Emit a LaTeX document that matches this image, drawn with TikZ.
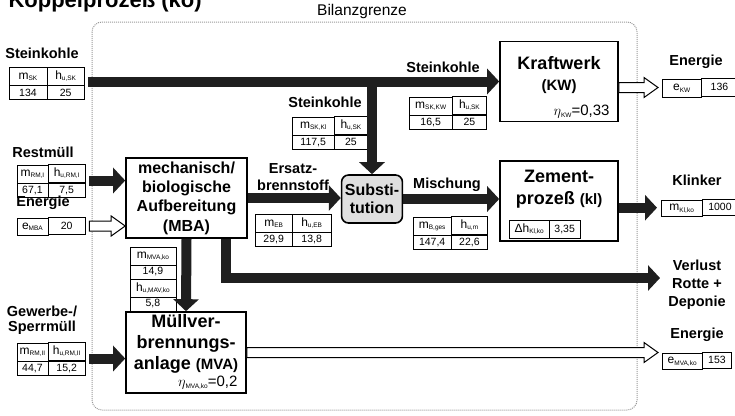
\documentclass[tikz,border=0pt]{standalone}
\usepackage{fontspec}
\setmainfont{Liberation Sans}
\usetikzlibrary{arrows.meta,matrix,calc}

\newcommand{\qsym}[2]{{\fontsize{12}{12}\selectfont #1}\raisebox{-1.5pt}{\fontsize{6.5}{6.5}\selectfont #2}}
\newcommand{\effsym}[2]{{\fontsize{15}{15}\selectfont$\eta$}\raisebox{-1.5pt}{\fontsize{6.5}{6.5}\selectfont #1}{\fontsize{15}{15}\selectfont=#2}}
\newcommand{\hollowflow}[2]{%
\draw [energy] let \p1 = (#1), \p2 = (#2) in
 (\x1,\y1+5pt) -- (\x2-14pt,\y1+5pt) -- (\x2-14pt,\y1+10pt) -- (\x2,\y1)
 -- (\x2-14pt,\y1-10pt) -- (\x2-14pt,\y1-5pt) -- (\x1,\y1-5pt) -- cycle;}

\tikzset{
 flow/.style = {line width=10pt, black!88, -{Triangle[length=12pt, width=25pt]}},
 energy/.style = {line width=1pt, fill=white, line join=miter},
 bound/.style = {gray!80, line width=1pt, densely dotted, rounded corners=10pt},
 unit/.style = {draw, line width=1.6pt, minimum width=118pt, minimum height=80pt},
 unittext/.style = {align=center, font=\fontsize{18}{21}\selectfont\bfseries},
 lab/.style = {align=center, font=\fontsize{14.5}{15.5}\selectfont\bfseries},
 valtab/.style = {matrix of nodes, anchor=north west, column sep=-0.8pt, row sep=-0.8pt,
   nodes={draw, line width=0.8pt, inner sep=0pt, minimum width=37.5pt, minimum height=14pt,
   font=\fontsize{10.5}{11}\selectfont},
   row 1/.style={nodes={minimum height=18pt}}},
}

\begin{document}
\begin{tikzpicture}[x=1pt, y=-1pt]
\useasboundingbox (0,0) rectangle (735,415);

\node [anchor=base west, font=\fontsize{22}{22}\selectfont\bfseries] (title) at (5,7) {Koppelprozeß (ko)};
\node [font=\fontsize{15.5}{16}\selectfont] (bilanz) at (362,11) {Bilanzgrenze};
\draw [bound] (92,22) rectangle (637,410);

% Anlagen
\node [unit] (kw) at (559,81.5) {};
\node [unittext] (kwtxt) at (559,75) {Kraftwerk\\{\fontsize{15}{15}\selectfont (KW)}};
\node [anchor=east] (kweta) at (613,112) {\effsym{KW}{0,33}};
\node [unit, minimum width=121pt, align=center, font=\fontsize{16}{19.3}\selectfont\bfseries] (mba) at (186.5,198) {mechanisch/\\biologische\\Aufbereitung\\(MBA)};
\node [unit, minimum width=60pt, minimum height=48pt, rounded corners=7pt, fill=gray!25, align=center, font=\fontsize{16}{18}\selectfont\bfseries] (subst) at (372,199) {Substi-\\tution};
\node [unit] (zem) at (559,201) {};
\node [unittext, font=\fontsize{18}{22}\selectfont\bfseries] (zemtxt) at (559,189) {Zement-\\prozeß {\fontsize{15}{15}\selectfont (kl)}};
\node [unit, minimum width=120pt, minimum height=81pt] (mva) at (186,352.5) {};
\node [unittext] (mvatxt) at (186,344) {Müllver-\\brennungs-\\anlage {\fontsize{15}{15}\selectfont (MVA)}};
\node [anchor=east] (mvaeta) at (241,383) {\effsym{MVA,ko}{0,2}};

% Tabellen
\matrix (sk) [valtab, column 1/.style={nodes={minimum width=38pt}}] at (5,63) {
 \qsym{m}{SK} & \qsym{h}{u,SK} \\ 134 & 25 \\};
\matrix (rmi) [valtab, column 1/.style={nodes={minimum width=31pt}}] at (13,160) {
 \qsym{m}{RM,I} & \qsym{h}{u,RM,I} \\ 67,1 & 7,5 \\};
\matrix (emba) [valtab, column 1/.style={nodes={minimum width=31pt}}, row 1/.style={nodes={minimum height=17pt}}] at (13,213) {
 \qsym{e}{MBA} & 20 \\};
\matrix (rmii) [valtab, column 1/.style={nodes={minimum width=31pt}}] at (13,338) {
 \qsym{m}{RM,II} & \qsym{h}{u,RM,II} \\ 44,7 & 15,2 \\};
\matrix (mvatab) [valtab, nodes={minimum width=46pt}, row 3/.style={nodes={minimum height=18pt}}] at (126,243) {
 \qsym{m}{MVA,ko} \\ 14,9 \\ \qsym{h}{u,MAV,ko} \\ 5,8 \\};
\matrix (eb) [valtab, column 2/.style={nodes={minimum width=38.5pt}}] at (251,210) {
 \qsym{m}{EB} & \qsym{h}{u,EB} \\ 29,9 & 13,8 \\};
\matrix (skkl) [valtab, column 1/.style={nodes={minimum width=42.5pt}}, column 2/.style={nodes={minimum width=33pt}}] at (288,112) {
 \qsym{m}{SK,Kl} & \qsym{h}{u,SK} \\ 117,5 & 25 \\};
\matrix (skkw) [valtab, column 1/.style={nodes={minimum width=43.5pt}}, column 2/.style={nodes={minimum width=34pt}}] at (405,92) {
 \qsym{m}{SK,KW} & \qsym{h}{u,SK} \\ 16,5 & 25 \\};
\matrix (bges) [valtab, column 1/.style={nodes={minimum width=38.5pt}}, column 2/.style={nodes={minimum width=36pt}}] at (409,212) {
 \qsym{m}{B,ges} & \qsym{h}{u,m} \\ 147,4 & 22,6 \\};
\matrix (dh) [valtab, column 1/.style={nodes={minimum width=40.5pt}}, column 2/.style={nodes={minimum width=30.5pt}}] at (505,216) {
 \qsym{Δh}{Kl,ko} & 3,35 \\};
\matrix (ekw) [valtab, column 1/.style={nodes={minimum width=39.5pt}}, column 2/.style={nodes={minimum width=36pt}}] at (658,74) {
 \qsym{e}{KW} & 136 \\};
\matrix (kl) [valtab, column 1/.style={nodes={minimum width=41.5pt}}, column 2/.style={nodes={minimum width=35pt}}, row 1/.style={nodes={minimum height=16pt}}] at (657,195) {
 \qsym{m}{Kl,ko} & 1000 \\};
\matrix (emva) [valtab, column 1/.style={nodes={minimum width=40.5pt}}, column 2/.style={nodes={minimum width=29pt}}, row 1/.style={nodes={minimum height=16pt}}] at (658,348) {
 \qsym{e}{MVA,ko} & 153 \\};

% Beschriftungen
\node [lab] (sklab) at (42,53) {Steinkohle};
\node [lab] (sktoplab) at (443,67) {Steinkohle};
\node [lab] (skkllab) at (325,102) {Steinkohle};
\node [lab] (rmilab) at (43,152) {Restmüll};
\node [lab] (embalab) at (43,203) {Energie};
\node [lab, font=\fontsize{14.5}{15}\selectfont\bfseries] (rmiilab) at (42,320) {Gewerbe-/\\Sperrmüll};
\node [lab, font=\fontsize{14.5}{17}\selectfont\bfseries] (eblab) at (293,177) {Ersatz-\\brennstoff};
\node [lab] (mischlab) at (447,185) {Mischung};
\node [lab] (ekwlab) at (696,62) {Energie};
\node [lab] (kllab) at (697,180) {Klinker};
\node [lab, font=\fontsize{14.5}{18}\selectfont\bfseries] (verlab) at (697,285) {Verlust\\Rotte +\\Deponie};
\node [lab] (emvalab) at (697,335) {Energie};

% Stoffstroeme
\coordinate (tee) at (subst.north |- kw.west);
\coordinate (lossend) at (660,278);
\draw [flow] (sk.east |- kw.west) -- (kw.west);
\draw [flow] (tee) -- (subst.north);
\draw [flow] (rmi.east) -- (rmi.east -| mba.west);
\draw [flow] (mba.east) -- (mba.east -| subst.west);
\draw [flow] (subst.east) -- (subst.east -| zem.west);
\draw [flow] (zem.east |- kl.west) -- (kl.west);
\draw [flow] (mba.south) -- (mva.north);
\draw [flow] ([xshift=-22pt]mba.south east) |- (lossend);
\draw [flow] (rmii.east) -- (rmii.east -| mva.west);

% Energiestroeme
\hollowflow{emba.east}{emba.east -| mba.west}
\hollowflow{kw.east |- ekw.west}{ekw.west}
\hollowflow{mva.east}{mva.east -| emva.west}
\end{tikzpicture}
\end{document}
